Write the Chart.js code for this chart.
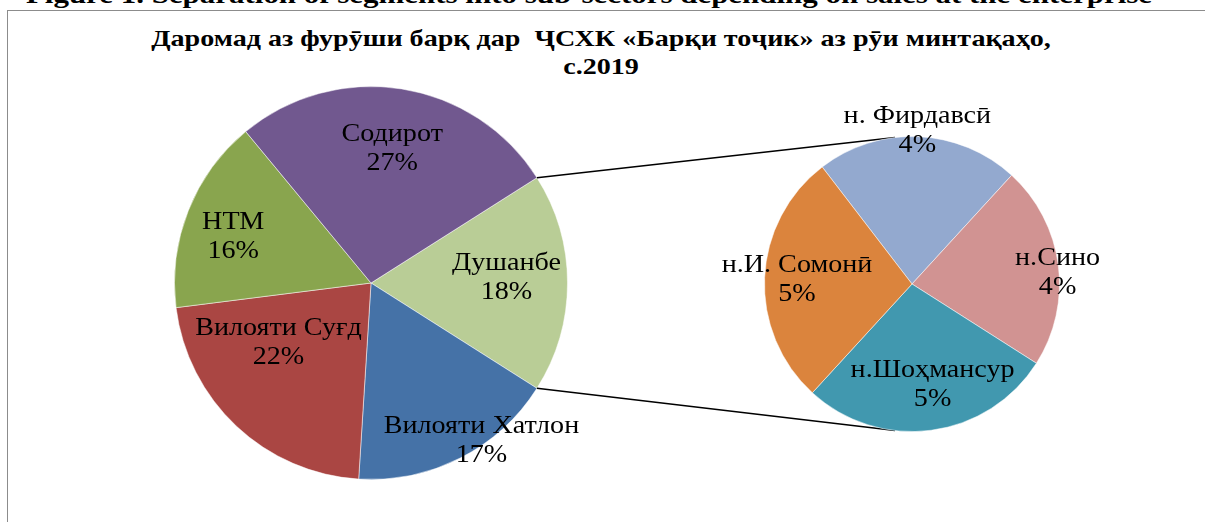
<!DOCTYPE html>
<html>
<head>
<meta charset="utf-8">
<script src="https://cdn.jsdelivr.net/npm/chart.js@4.4.1/dist/chart.umd.min.js"></script>
<style>
  html, body { margin: 0; padding: 0; background: #fff; overflow: hidden; }
  body { width: 1205px; height: 522px; position: relative; font-family: "Liberation Serif", "DejaVu Serif", serif; }
  #caption { position: absolute; left: 0; width: 1178px; top: -18px; line-height: 26px; font-size: 26px; font-weight: bold; text-align: center; white-space: nowrap; color: #000; transform: scaleX(1.19); transform-origin: 589px 0; }
  #frame { position: absolute; left: 7px; top: 10px; width: 1205px; height: 520px; border-left: 1px solid #8c8c8c; border-top: 1px solid #8c8c8c; }
  #title { position: absolute; left: 0; width: 1202px; top: 24px; line-height: 28px; font-size: 24px; font-weight: bold; text-align: center; white-space: pre; color: #000; transform: scaleX(1.17); transform-origin: 601px 0; }
  canvas { position: absolute; left: 0; top: 0; }
</style>
</head>
<body>
<div id="caption">Figure 1. Separation of segments into sub-sectors depending on sales at the enterprise</div>
<div id="frame"></div>
<div id="title">Даромад аз фурӯши барқ дар  ҶСХК «Барқи тоҷик» аз рӯи минтақаҳо,
с.2019</div>
<canvas id="mainPie" width="1205" height="522"></canvas>
<canvas id="subPie" width="1205" height="522"></canvas>
<script>
// main pie: share of revenue by region, % (Душанбе is split out in the second pie)
const mainLabels = ['Душанбе', 'Вилояти Хатлон', 'Вилояти Суғд', 'НТМ', 'Содирот'];
const mainValues = [18, 17, 22, 16, 27];
const mainColors = ['#B9CD96', '#4572A7', '#AA4643', '#89A54E', '#71588F'];

// second pie: Dushanbe districts
const subLabels = ['н. Фирдавсӣ', 'н.Сино', 'н.Шоҳмансур', 'н.И. Сомонӣ'];
const subValues = [4, 4, 5, 5];
const subColors = ['#93A9CF', '#D19392', '#4198AF', '#DB843D'];

// label placement: fraction of radius, angle shift in degrees
const mainLabelPlace = [[0.69, -2], [0.98, -8], [0.56, 14], [0.74, -3], [0.69, 0]];
const subLabelPlace = [[1.04, -0.5], [0.99, 3], [0.70, -4], [0.78, -0.5]];

const total = mainValues.reduce((a, b) => a + b, 0);
const labelFont = '25px "Liberation Serif", "DejaVu Serif", serif';
const labelStretch = 1.125;

function drawLabels(chart, labels, values, place) {
    const ctx = chart.ctx;
    const arcs = chart.getDatasetMeta(0).data;
    arcs.forEach((arc, i) => {
        const mid = (arc.startAngle + arc.endAngle) / 2 + place[i][1] * Math.PI / 180;
        const r = arc.outerRadius * place[i][0];
        const x = arc.x + Math.cos(mid) * r;
        const y = arc.y + Math.sin(mid) * r;
        const pct = Math.round(values[i] / total * 100) + '%';
        ctx.save();
        ctx.font = labelFont;
        ctx.fillStyle = '#000';
        ctx.textAlign = 'center';
        ctx.textBaseline = 'middle';
        ctx.translate(x, y);
        ctx.scale(labelStretch, 1);
        ctx.fillText(labels[i], 0, -14.5);
        ctx.fillText(pct, 0, 14.5);
        ctx.restore();
    });
}

const baseOptions = {
    responsive: false,
    animation: false,
    events: [],
    plugins: { legend: { display: false }, tooltip: { enabled: false }, title: { display: false } }
};

const mainChart = new Chart(document.getElementById('mainPie'), {
    type: 'pie',
    data: {
        labels: mainLabels,
        datasets: [{ data: mainValues, backgroundColor: mainColors, borderColor: 'rgba(255,255,255,0.5)', borderWidth: 1 }]
    },
    options: Object.assign({}, baseOptions, {
        rotation: 57.6,
        layout: { padding: { left: 174, right: 637, top: 86, bottom: 42 } }
    }),
    plugins: [{
        id: 'mainLabels',
        afterDatasetsDraw(chart) { drawLabels(chart, mainLabels, mainValues, mainLabelPlace); }
    }]
});

const subChart = new Chart(document.getElementById('subPie'), {
    type: 'pie',
    data: {
        labels: subLabels,
        datasets: [{ data: subValues, backgroundColor: subColors, borderColor: 'rgba(255,255,255,0.5)', borderWidth: 1 }]
    },
    options: Object.assign({}, baseOptions, {
        rotation: -37.5,
        layout: { padding: { left: 764, right: 145, top: 136, bottom: 90 } }
    }),
    plugins: [{
        id: 'connectors',
        beforeDatasetsDraw(chart) {
            // lines from the Dushanbe slice edges to the second pie
            const d = mainChart.getDatasetMeta(0).data[0];
            const s = chart.getDatasetMeta(0).data[0];
            const a = 96.6 * Math.PI / 180;
            const ctx = chart.ctx;
            ctx.save();
            ctx.strokeStyle = '#000';
            ctx.lineWidth = 1.5;
            ctx.beginPath();
            ctx.moveTo(d.x + Math.cos(d.startAngle) * d.outerRadius, d.y + Math.sin(d.startAngle) * d.outerRadius);
            ctx.lineTo(s.x + Math.cos(-a) * s.outerRadius, s.y + Math.sin(-a) * s.outerRadius);
            ctx.moveTo(d.x + Math.cos(d.endAngle) * d.outerRadius, d.y + Math.sin(d.endAngle) * d.outerRadius);
            ctx.lineTo(s.x + Math.cos(a) * s.outerRadius, s.y + Math.sin(a) * s.outerRadius);
            ctx.stroke();
            ctx.restore();
        },
        afterDatasetsDraw(chart) { drawLabels(chart, subLabels, subValues, subLabelPlace); }
    }]
});
</script>
</body>
</html>
